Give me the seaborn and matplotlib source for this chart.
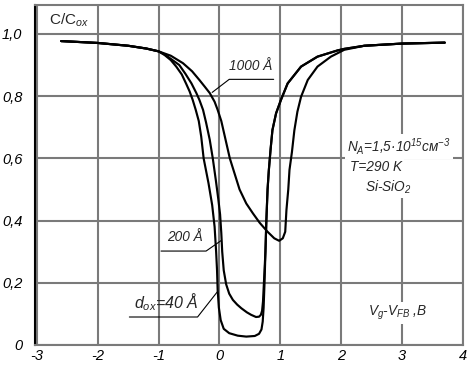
import matplotlib
matplotlib.use("Agg")
import matplotlib.pyplot as plt
import seaborn as sns
import pandas as pd
from matplotlib import font_manager

# ---- data ----
x_40 = [-2.6, -2.0, -1.5, -1.2, -1.0, -0.9, -0.8, -0.71, -0.62, -0.55, -0.49, -0.44, -0.39,
        -0.34, -0.30, -0.26, -0.22, -0.18, -0.12, -0.08, -0.055, -0.04, -0.03, -0.01, 0.02,
        0.07, 0.16, 0.3, 0.44, 0.58, 0.65, 0.69, 0.71, 0.725, 0.74, 0.755, 0.77, 0.79, 0.81,
        0.84, 0.87, 0.93, 1.01, 1.12, 1.34, 1.61, 1.94, 2.05, 2.38, 3.0, 3.7]
y_40 = [0.977, 0.971, 0.962, 0.953, 0.944, 0.932, 0.916, 0.895, 0.87, 0.841, 0.815, 0.788, 0.756,
        0.72, 0.67, 0.60, 0.56, 0.52, 0.45, 0.38, 0.30, 0.24, 0.177, 0.12, 0.08,
        0.052, 0.038, 0.030, 0.027, 0.029, 0.036, 0.05, 0.075, 0.12, 0.20, 0.30, 0.40, 0.50, 0.56,
        0.63, 0.691, 0.745, 0.788, 0.841, 0.895, 0.927, 0.947, 0.952, 0.962, 0.969, 0.972]

x_200 = [-2.6, -2.0, -1.5, -1.2, -1.0, -0.9, -0.8, -0.66, -0.56, -0.46, -0.38, -0.33, -0.27,
         -0.22, -0.16, -0.11, -0.06, -0.02, 0.01, 0.03, 0.045, 0.07, 0.11, 0.16, 0.22, 0.29,
         0.36, 0.45, 0.52, 0.60, 0.65, 0.68, 0.70, 0.715, 0.73, 0.745, 0.755, 0.77, 0.79, 0.81,
         0.84, 0.87, 0.93, 1.01, 1.12, 1.34, 1.61, 1.94, 2.05, 2.38, 3.0, 3.7]
y_200 = [0.977, 0.971, 0.962, 0.953, 0.944, 0.934, 0.92, 0.90, 0.872, 0.841, 0.81, 0.788, 0.756,
         0.715, 0.66, 0.60, 0.53, 0.47, 0.42, 0.36, 0.30, 0.24, 0.195, 0.165, 0.145, 0.13,
         0.118, 0.105, 0.097, 0.090, 0.091, 0.097, 0.11, 0.14, 0.20, 0.26, 0.30, 0.40, 0.50, 0.56,
         0.63, 0.691, 0.745, 0.788, 0.841, 0.895, 0.927, 0.947, 0.952, 0.962, 0.969, 0.972]

x_1000 = [-2.6, -2.0, -1.5, -1.2, -1.0, -0.8, -0.6, -0.45, -0.33, -0.24, -0.16, -0.08, -0.03,
          0.03, 0.10, 0.17, 0.25, 0.33, 0.44, 0.55, 0.66, 0.79, 0.90, 0.98, 1.04, 1.08, 1.10,
          1.13, 1.15, 1.19, 1.23, 1.28, 1.34, 1.45, 1.61, 1.83, 2.05, 2.38, 3.0, 3.7]
y_1000 = [0.977, 0.971, 0.962, 0.953, 0.944, 0.93, 0.906, 0.88, 0.852, 0.83, 0.81, 0.782, 0.756,
          0.72, 0.66, 0.60, 0.55, 0.50, 0.455, 0.423, 0.393, 0.364, 0.343, 0.335, 0.343, 0.364, 0.434,
          0.50, 0.563, 0.62, 0.69, 0.75, 0.798, 0.852, 0.895, 0.927, 0.949, 0.962, 0.969, 0.972]

x_ticks = [-3, -2, -1, 0, 1, 2, 3, 4]
x_ticklabels = ["-3", "-2", "-1", "0", "1", "2", "3", "4"]
y_ticks = [0, 0.2, 0.4, 0.6, 0.8, 1.0]
y_ticklabels = ["0", "0,2", "0,4", "0,6", "0,8", "1,0"]

# ---- fonts ----
names = {f.name for f in font_manager.fontManager.ttflist}
fam = "Liberation Sans Narrow" if "Liberation Sans Narrow" in names else "Liberation Sans"

sns.set_theme(style="white")
plt.rcParams["font.family"] = [fam, "DejaVu Sans"]
plt.rcParams["font.style"] = "italic"
plt.rcParams["mathtext.fontset"] = "custom"
plt.rcParams["mathtext.rm"] = fam
plt.rcParams["mathtext.it"] = fam + ":italic"
plt.rcParams["mathtext.bf"] = fam + ":bold"

fig = plt.figure(figsize=(4.70, 3.67), dpi=100)
ax = fig.add_axes([35 / 470, 1 - 345 / 367, (463 - 35) / 470, (345 - 5) / 367])

df = pd.concat([
    pd.DataFrame({"x": x_40, "y": y_40, "d": "40"}),
    pd.DataFrame({"x": x_200, "y": y_200, "d": "200"}),
    pd.DataFrame({"x": x_1000, "y": y_1000, "d": "1000"}),
])
sns.lineplot(data=df, x="x", y="y", units="d", estimator=None, sort=False,
             color="black", linewidth=1.55, ax=ax, zorder=3)
for ln in ax.get_lines():
    ln.set_solid_joinstyle("round")

ax.set_xlim(-3.03, 3.99)
ax.set_ylim(0, 1.093)
ax.set_xticks(x_ticks)
ax.set_xticklabels(x_ticklabels, fontstyle="italic", fontsize=10.5, color="black")
ax.set_yticks(y_ticks)
ax.set_yticklabels(y_ticklabels, fontstyle="italic", fontsize=10.5, color="black")
ax.tick_params(length=0)
ax.tick_params(axis="x", pad=3)
ax.tick_params(axis="y", pad=9)
ax.set_xlabel("")
ax.set_ylabel("")
ax.grid(True, color="#7a7a7a", linewidth=1.5, zorder=0)
ax.set_axisbelow(True)
for s in ["top", "right", "bottom"]:
    ax.spines[s].set_color("#7a7a7a")
    ax.spines[s].set_linewidth(1.5)
ax.spines["left"].set_color("black")
ax.spines["left"].set_linewidth(1.5)

# annotations
fs = 9.8
tk = dict(fontsize=fs, fontstyle="italic", ha="center", va="center", zorder=5)
ax.text(0.52, 0.897, "1000 Å", **tk)
ax.plot([0.89, 0.16, -0.12], [0.854, 0.854, 0.812], color="black", lw=0.8, zorder=4)
ax.text(-0.56, 0.347, "200 Å", **tk)
ax.plot([-0.96, -0.22, 0.03], [0.302, 0.302, 0.336], color="black", lw=0.8, zorder=4)
ax.text(-0.88, 0.138, "$d_{ox}$=40 Å", fontsize=11.5, fontstyle="italic",
        ha="center", va="center", zorder=5)
ax.plot([-1.48, -0.36, -0.035], [0.09, 0.09, 0.171], color="black", lw=0.8, zorder=4)

ax.text(-2.8, 1.045, "C/C$_{\\mathrm{ox}}$", fontsize=11, fontstyle="normal",
        ha="left", va="center", zorder=5)

box = dict(facecolor="white", edgecolor="none", pad=1.5)
ax.text(2.95, 0.637, "$N_A$=1,5·10$^{15}$см$^{-3}$", bbox=box, **tk)
ax.text(2.57, 0.572, "T=290 K", bbox=box, **tk)
ax.text(2.77, 0.508, "Si-SiO$_2$", bbox=box, **tk)
ax.text(2.92, 0.103, "$V_g$-$V_{FB}$ ,B", bbox=box, **tk)

fig.savefig("out.png", dpi=100)
